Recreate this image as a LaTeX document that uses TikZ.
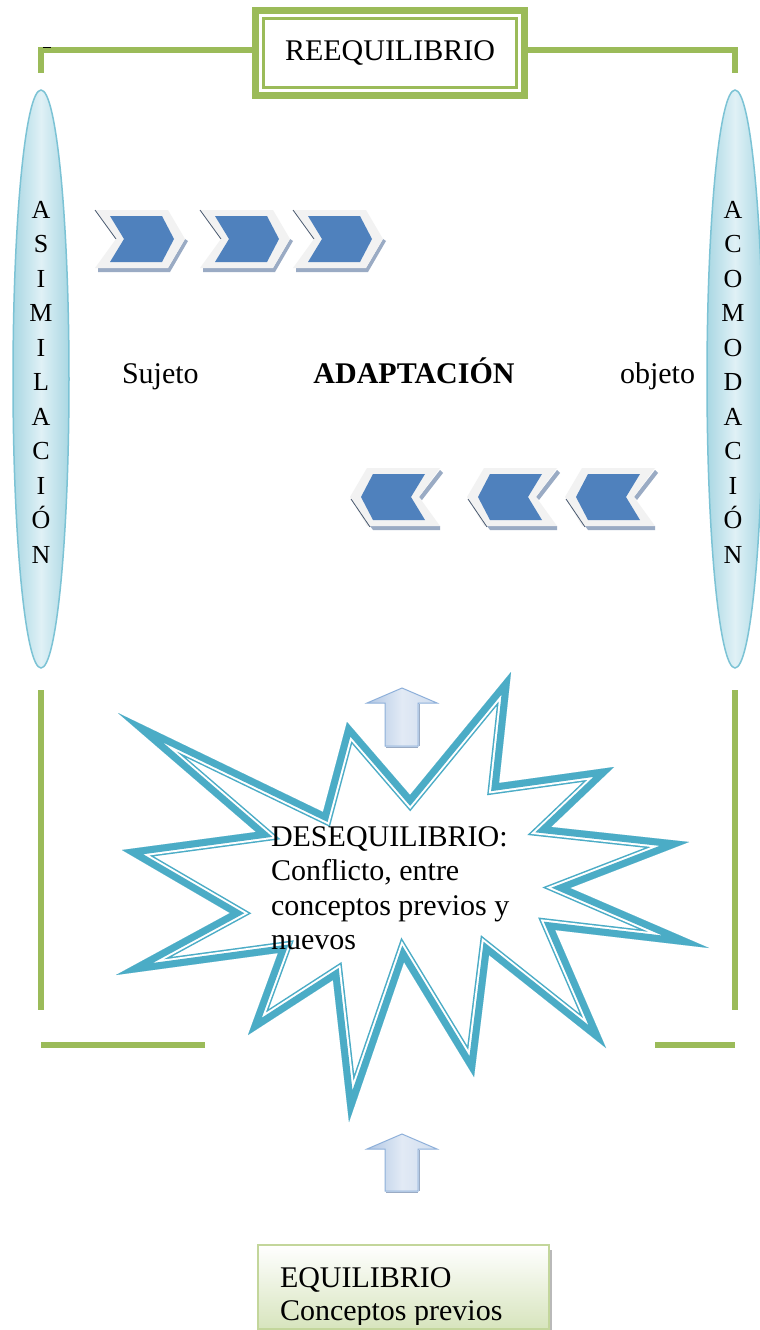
\documentclass[tikz,border=0pt]{standalone}
\usepackage{fontspec}
\setmainfont{Liberation Serif}
\usetikzlibrary{shapes.geometric,calc}
\definecolor{grn}{HTML}{9BBB59}
\definecolor{starc}{HTML}{4BACC6}
\definecolor{ellfill}{HTML}{A9D7E3}
\definecolor{elllight}{HTML}{E0F1F6}
\definecolor{ellline}{HTML}{7CC3D5}
\definecolor{chblue}{HTML}{4F81BD}
\definecolor{chgray}{HTML}{F2F2F2}
\definecolor{chshadow}{HTML}{9AABC4}
\definecolor{chdark}{HTML}{4A5A70}
\definecolor{arrfill}{HTML}{AFC6E4}
\definecolor{arrlight}{HTML}{E2EAF5}
\definecolor{arrline}{HTML}{8EB0DA}
\definecolor{boxgreen}{HTML}{D7E4BD}
\definecolor{boxline}{HTML}{C3D69B}
\begin{document}
\begin{tikzpicture}[x=1pt,y=-1pt,
  font=\fontsize{30}{34.5}\selectfont,
  grnline/.style={draw=grn,line width=6.5pt},
  txt/.style={inner sep=0pt,outer sep=0pt},
  ellbox/.style={ellipse,draw=ellline,line width=1.5pt,inner sep=0pt,
     left color=ellfill,right color=ellfill,middle color=elllight,
     minimum width=56pt,minimum height=578pt},
  uparrow/.style={draw=arrline,line width=1pt,left color=arrfill,right color=arrfill!60,middle color=arrlight},
  starpath/.style={insert path={(511,672) -- (499,783) -- (614,767) -- (551,827) -- (689,842) -- (570,888)
     -- (709,948) -- (555,930) -- (606,1048) -- (489,955) -- (474,1077) -- (404,962)
     -- (349,1122) -- (333,980) -- (248,1035) -- (278,953) -- (116,975) -- (230,913)
     -- (122,850) -- (256,832) -- (118,713) -- (323,812) -- (347,722) -- (410,795) -- cycle}},
  chevR/.pic={
    \fill[chshadow] (3,58) -- (73,58) -- (90,29) -- (93,31) -- (75,62) -- (3,62) -- cycle;
    \fill[chgray] (0,0) -- (73,0) -- (90,29) -- (73,58) -- (0,58) -- (21,29) -- cycle;
    \fill[chblue] (15,6) -- (67,6) -- (79,29) -- (67,52) -- (15,52) -- (29,29) -- cycle;
    \draw[chdark,line width=0.8pt] (0,0) -- (21,29);
  },
  chevL/.pic={
    \fill[chshadow] (20,58) -- (90,58) -- (90,62) -- (23,62) -- cycle;
    \fill[chshadow] (90,2) -- (93,5) -- (72,32) -- (69,29) -- cycle;
    \fill[chgray] (90,0) -- (17,0) -- (0,29) -- (17,58) -- (90,58) -- (69,29) -- cycle;
    \fill[chblue] (75,6) -- (23,6) -- (11,29) -- (23,52) -- (75,52) -- (61,29) -- cycle;
    \draw[chdark,line width=0.8pt] (1,31) -- (20,59);
  }]
\useasboundingbox (0,0) rectangle (760,1330);
\fill[white] (0,0) rectangle (760,1330);

% top bracket and REEQUILIBRIO box
\coordinate (tl) at (41,73);
\coordinate (tr) at (735,73);
\node[draw=grn,line width=7pt,fill=white,minimum width=269pt,minimum height=85pt,inner sep=0pt] (reeq) at (390,53) {};
\draw[grnline,line join=miter] ([yshift=3pt]reeq.west) -| (tl);
\draw[grnline,line join=miter] ([yshift=3pt]reeq.east) -| (tr);
\draw[black,line width=1pt] (43,47.5) -- (51,47.5);
\draw[grn,line width=2.2pt] ($(reeq.north west)+(11.5,11.5)$) rectangle ($(reeq.south east)+(-11.5,-11.5)$);
\node[txt,anchor=base] (reeqt) at (390,61) {REEQUILIBRIO};

% side ellipses
\node[ellbox] (asim) at (41,379) {};
\node[ellbox] (acom) at (735,379) {};
\node[txt,anchor=base] (asimt) at (41,218) {\parbox[t]{40pt}{\centering\fontsize{26}{34.5}\selectfont A\\S\\I\\M\\I\\L\\A\\C\\I\\Ó\\N}};
\node[txt,anchor=base] (acomt) at (733,218) {\parbox[t]{40pt}{\centering\fontsize{26}{34.5}\selectfont A\\C\\O\\M\\O\\D\\A\\C\\I\\Ó\\N}};

% chevrons
\pic at (95,210) {chevR};
\pic at (200,210) {chevR};
\pic at (293,210) {chevR};
\pic at (350,468) {chevL};
\pic at (467,468) {chevL};
\pic at (565,468) {chevL};

% middle text
\node[txt,anchor=base west] (suj) at (122,383) {Sujeto};
\node[txt,anchor=base] (adap) at (414,383) {\bfseries ADAPTACIÓN};
\node[txt,anchor=base west] (obj) at (620,383) {objeto};

% up arrows
\draw[uparrow] (402,688) -- (437,703) -- (418,703) -- (418,746) -- (385,746) -- (385,703) -- (367,703) -- cycle;
\draw[chshadow,line width=1pt] (386,747.5) -- (418,747.5) (419.5,704) -- (419.5,746);
\draw[uparrow] (402,1134) -- (437,1149) -- (418,1149) -- (418,1191) -- (385,1191) -- (385,1149) -- (367,1149) -- cycle;
\draw[chshadow,line width=1pt] (386,1192.5) -- (418,1192.5) (419.5,1150) -- (419.5,1191);

% lower bracket
\coordinate (bl1) at (41,690);
\coordinate (bl2) at (41,1010);
\coordinate (br1) at (735,690);
\coordinate (br2) at (735,1010);
\coordinate (hl1) at (41,1045);
\coordinate (hl2) at (205,1045);
\coordinate (hr1) at (655,1045);
\coordinate (hr2) at (735,1045);
\draw[grnline] (bl1) -- (bl2);
\draw[grnline] (br1) -- (br2);
\draw[grnline] (hl1) -- (hl2);
\draw[grnline] (hr1) -- (hr2);

% star
\fill[white,starpath];
\begin{scope}
  \clip[starpath];
  \draw[starc,line width=21pt,line join=miter,miter limit=10,starpath];
  \draw[white,line width=18pt,line join=miter,miter limit=10,starpath];
  \draw[starc,line width=14pt,line join=miter,miter limit=10,starpath];
\end{scope}
\node[txt,anchor=base west] (dest) at (271,846) {\parbox[t]{300pt}{\raggedright\fontsize{30}{34.5}\selectfont DESEQUILIBRIO:\\Conflicto, entre\\conceptos previos y\\nuevos}};

% bottom box
\node[draw=boxline,line width=1.5pt,top color=white,bottom color=boxgreen,minimum width=291pt,minimum height=84pt,inner sep=0pt] (equi) at (403.5,1287) {};
\draw[gray!55,line width=1.5pt] (551,1250) -- (551,1330);
\begin{scope}
  \clip (258,1240) rectangle (549,1324);
  \node[txt,anchor=base west] (equit) at (280,1287) {\parbox[t]{260pt}{\raggedright\fontsize{30}{33}\selectfont EQUILIBRIO\\Conceptos previos}};
\end{scope}
\end{tikzpicture}
\end{document}
